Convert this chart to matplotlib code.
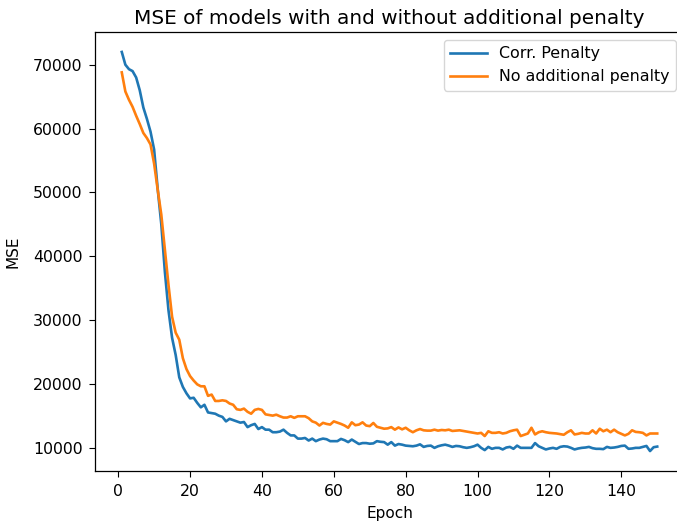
import matplotlib
matplotlib.use("Agg")
import matplotlib.pyplot as plt

# epoch 1..150, values
corr_penalty = [
    72000, 70000, 69300, 69000, 68000, 66000, 63300, 61500, 59500, 56700,
    50500, 45000, 37500, 31500, 27200, 24500, 21000, 19500, 18500, 17700,
    17800, 17000, 16300, 16700, 15500, 15400, 15300, 15000, 14800, 14100,
    14500, 14300, 14100, 13900, 14000, 13200, 13500, 13700, 12900, 13200,
    12800, 12800, 12400, 12400, 12500, 12800, 12300, 11900, 11900, 11400,
    11400, 11500, 11100, 11400, 11000, 11250, 11400, 11300, 11000, 11000,
    11000, 11350, 11150, 10850, 11250, 10900, 10550, 10700, 10700, 10600,
    10650, 11000, 10900, 10850, 10450, 10850, 10300, 10550, 10450, 10300,
    10250, 10200, 10300, 10500, 10100, 10250, 10300, 9950, 10200, 10350,
    10450, 10300, 10100, 10250, 10200, 10050, 9950, 10050, 10200, 10450,
    9950, 9600, 10100, 9800, 9950, 9950, 9700, 10000, 10100, 9800,
    10300, 9950, 9950, 9950, 9950, 10700, 10200, 9950, 9700, 9850,
    9950, 9800, 10100, 10200, 10150, 9950, 9700, 9850, 9950, 10000,
    10100, 9900, 9800, 9800, 9750, 10100, 9950, 10000, 10100, 10250,
    10300, 9800, 9850, 9950, 9950, 10100, 10250, 9450, 10050, 10150,
]
no_penalty = [
    68800, 65800, 64500, 63400, 62000, 60700, 59300, 58500, 57500, 54500,
    50400, 46500, 41000, 35500, 30500, 28000, 26900, 24000, 22300, 21200,
    20500, 19900, 19600, 19600, 18100, 18300, 17300, 17300, 17400, 17300,
    16900, 16700, 16000, 15900, 16100, 15600, 15300, 15900, 16050, 15900,
    15200, 15100, 15000, 15150, 14900, 14700, 14700, 14900, 14650, 14900,
    14900, 14900, 14600, 14100, 13900, 13450, 13870, 13700, 13600, 14100,
    13900, 13700, 13450, 13100, 13950, 13500, 13600, 13950, 13450, 13350,
    13850, 13250, 13100, 12950, 13000, 13200, 12800, 13150, 12850, 13100,
    12700, 12400, 12700, 12900, 12700, 12650, 12650, 12800, 12650, 12750,
    12700, 12800, 12600, 12650, 12700, 12600, 12500, 12400, 12300, 12200,
    12300, 11800, 12550, 12300, 12300, 12400, 12200, 12300, 12550, 12700,
    12800, 11800, 12000, 12200, 13100, 12050, 12400, 12550, 12400, 12300,
    12250, 12200, 12100, 12000, 12400, 12700, 12050, 12150, 12300, 12200,
    12200, 12700, 12200, 12950, 12550, 12800, 12400, 12800, 12400, 12150,
    11900, 12150, 12700, 12450, 12400, 12300, 11900, 12200, 12200, 12200,
]
epochs = list(range(1, len(corr_penalty) + 1))

plt.rcParams.update({
    "xtick.labelsize": 11.3, "ytick.labelsize": 11.3,
    "axes.labelsize": 11, "legend.fontsize": 11.4,
    "xtick.major.size": 4, "ytick.major.size": 4,
    "xtick.major.pad": 5, "ytick.major.pad": 5,
    "axes.linewidth": 0.9,
})

fig = plt.figure(figsize=(6.77, 5.27), dpi=100)
# axes runs a little past the right edge, as in the reference crop
ax = fig.add_axes([95 / 677, 56 / 527, 589 / 677, 439 / 527])
ax.plot(epochs, corr_penalty, color="tab:blue", lw=1.9, label="Corr. Penalty")
ax.plot(epochs, no_penalty, color="tab:orange", lw=1.9, label="No additional penalty")
ax.set_xticks([0, 20, 40, 60, 80, 100, 120, 140])
ax.set_xlabel("Epoch", labelpad=5.5)
ax.set_ylabel("MSE", labelpad=9)
ax.set_title("MSE of models with and without additional penalty", fontsize=14.4)
ax.legend(loc="upper right", handlelength=2.3, handletextpad=0.8)
fig.savefig("out.png", dpi=100)
